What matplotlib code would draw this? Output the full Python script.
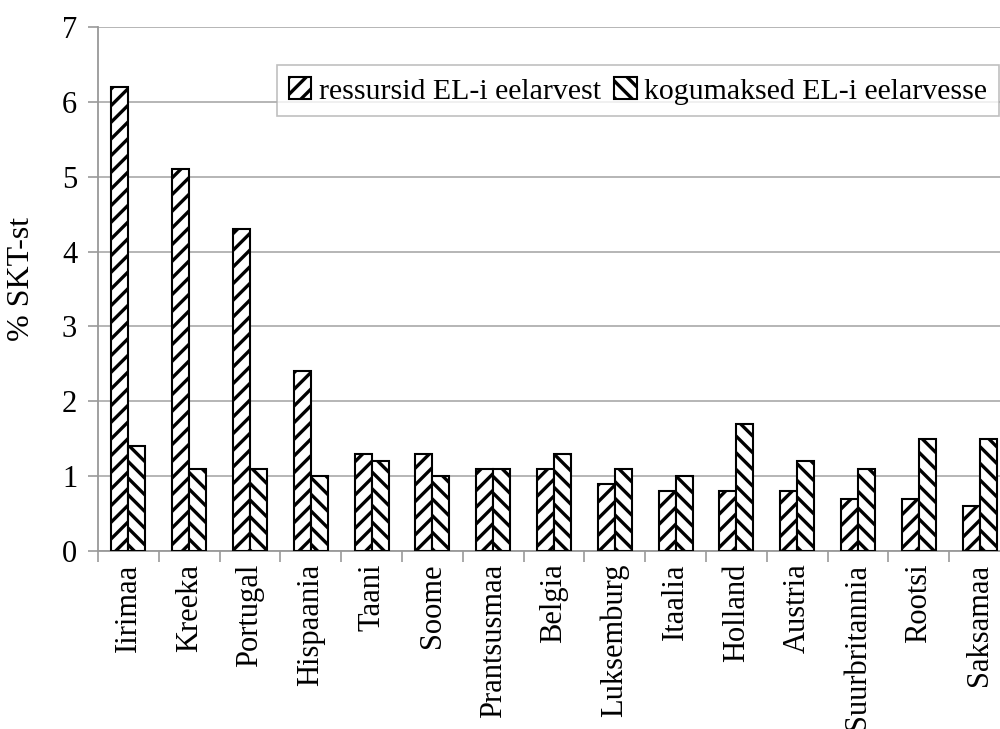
import numpy as np
import matplotlib.pyplot as plt

plt.rcParams["font.family"] = ["Liberation Serif", "DejaVu Serif"]
plt.rcParams["hatch.linewidth"] = 2.4

countries = ["Iirimaa", "Kreeka", "Portugal", "Hispaania", "Taani", "Soome",
             "Prantsusmaa", "Belgia", "Luksemburg", "Itaalia", "Holland",
             "Austria", "Suurbritannia", "Rootsi", "Saksamaa"]
ressursid = [6.2, 5.1, 4.3, 2.4, 1.3, 1.3, 1.1, 1.1, 0.9, 0.8, 0.8, 0.8,
             0.7, 0.7, 0.6]
kogumaksed = [1.4, 1.1, 1.1, 1.0, 1.2, 1.0, 1.1, 1.3, 1.1, 1.0, 1.7, 1.2,
              1.1, 1.5, 1.5]
labels = ["ressursid EL-i eelarvest", "kogumaksed EL-i eelarvesse"]

fig = plt.figure(figsize=(10, 7.29), dpi=100)
ax = fig.add_axes([0.098, 0.244, 0.912, 0.719])

x = np.arange(len(countries))
w = 0.28
ax.bar(x - w / 2, ressursid, w, color="white", edgecolor="black",
       hatch="//", linewidth=1.5, label=labels[0], zorder=3)
ax.bar(x + w / 2, kogumaksed, w, color="white", edgecolor="black",
       hatch="\\\\", linewidth=1.5, label=labels[1], zorder=3)

ax.set_xlim(-0.5, len(countries) - 0.5)
ax.set_ylim(0, 7)
ax.set_yticks(range(8))
ax.yaxis.grid(True, color="#b0b0b0", linewidth=1.3, zorder=0)

# country names under group centres, small ticks between groups
ax.set_xticks(x)
ax.set_xticklabels(countries, rotation=90, fontsize=22)
ax.set_xticks(np.arange(len(countries) + 1) - 0.5, minor=True)
ax.tick_params(axis="x", which="major", length=0, pad=9)
ax.tick_params(axis="x", which="minor", length=8, color="#999999", width=1.2)
ax.tick_params(axis="y", labelsize=22, length=7, color="#999999", width=1.2,
               pad=8)

for s in ["top", "right"]:
    ax.spines[s].set_visible(False)
ax.spines["left"].set_color("#999999")
ax.spines["left"].set_linewidth(1.3)
ax.spines["bottom"].set_color("#999999")
ax.spines["bottom"].set_linewidth(1.3)

ax.set_ylabel("% SKT-st", fontsize=23)
ax.yaxis.set_label_coords(-0.068, 0.52)

leg = ax.legend(loc="upper left", bbox_to_anchor=(0.196, 0.927), ncol=2,
                fontsize=21.5, frameon=True, fancybox=False, handlelength=0.75,
                handleheight=0.75, handletextpad=0.25, columnspacing=0.45,
                borderpad=0.4, borderaxespad=0)
leg.get_frame().set_edgecolor("#b0b0b0")
leg.get_frame().set_linewidth(1.2)

fig.savefig("out.png", dpi=100)
